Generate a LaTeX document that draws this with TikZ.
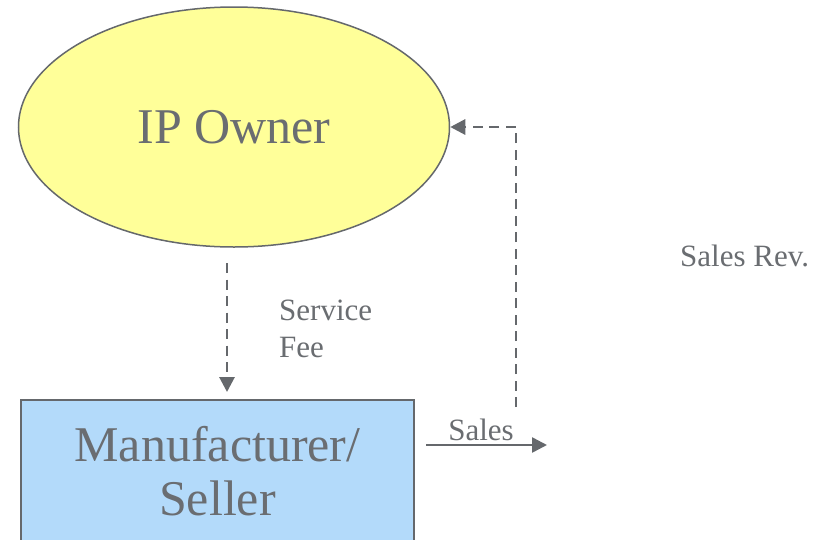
\documentclass[tikz,border=0pt]{standalone}
\usepackage{fontspec}
\setmainfont{Liberation Serif}
\newfontfamily\tnrfont{Liberation Serif}
\usetikzlibrary{shapes.geometric,arrows.meta}
\definecolor{txtgray}{RGB}{106,109,113}
\definecolor{linegray}{RGB}{101,104,108}
\definecolor{ipyellow}{RGB}{255,255,153}
\definecolor{sellerblue}{RGB}{179,218,250}
\tikzset{
  ipnode/.style={ellipse, draw=linegray, line width=1.5pt, fill=ipyellow,
    minimum width=431pt, minimum height=240pt, inner sep=0pt,
    text=txtgray, font=\tnrfont\fontsize{50}{54}\selectfont},
  sellerbox/.style={rectangle, draw=linegray, line width=2pt, fill=sellerblue,
    minimum width=393pt, minimum height=170pt, inner sep=0pt, align=center,
    text=txtgray, font=\tnrfont\fontsize{50}{54}\selectfont, text depth=28pt},
  lbl/.style={text=txtgray, font=\tnrfont\fontsize{31}{37}\selectfont, inner sep=0pt, align=left},
  flow/.style={draw=linegray, line width=2.6pt, -{Triangle[length=15pt,width=15pt]}},
  dashflow/.style={flow, line width=2.9pt, dash pattern=on 10pt off 6.5pt},
}
\begin{document}
\begin{tikzpicture}[x=1pt,y=-1pt]
\clip (0,0) rectangle (823,539);
\fill[white] (0,0) rectangle (823,539);
\node[ipnode] (ip) at (234,127) {IP Owner};
\node[sellerbox, anchor=north] (seller) at (217.5,399) {Manufacturer/\\Seller};
\coordinate (sfstart) at (227,263);
\coordinate (revstart) at (516,407);
\coordinate (salesend) at (547,445);
\draw[dashflow, shorten >=7pt] (sfstart) -- (sfstart |- seller.north);
\draw[dashflow] (revstart) |- (ip.east);
\draw[flow, shorten <=11pt] (seller.east |- salesend) -- (salesend)
  node[lbl, midway, above=3pt] (saleslbl) {Sales};
\node[lbl, anchor=base west] (sflbl) at (279,357) {Service\\Fee};
\node[lbl, anchor=base west] (revlbl) at (680,266) {Sales Rev.};
\end{tikzpicture}
\end{document}
